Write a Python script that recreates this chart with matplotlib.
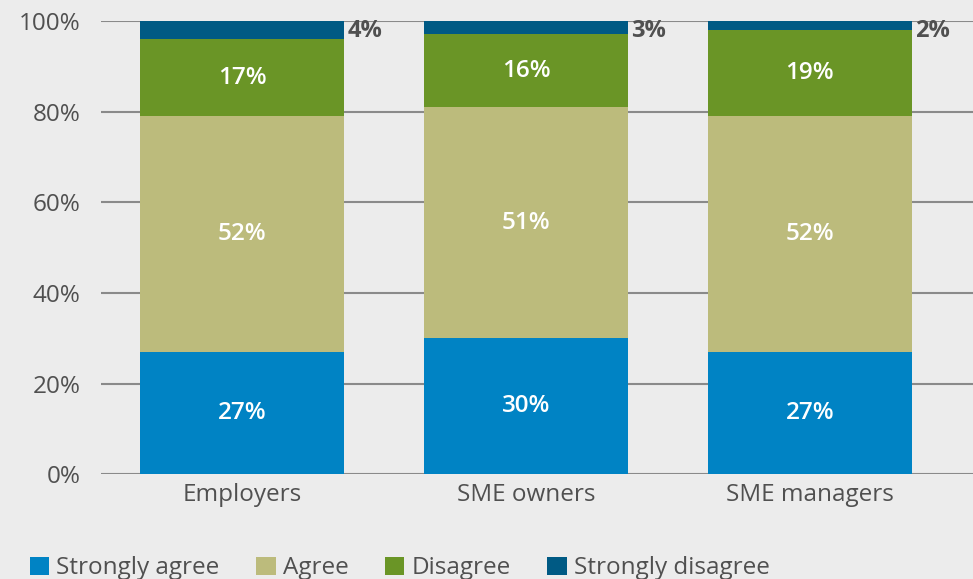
import matplotlib.pyplot as plt
import numpy as np

plt.rcParams['font.family'] = ['Open Sans', 'DejaVu Sans']

groups = ['Employers', 'SME owners', 'SME managers']
series = ['Strongly agree', 'Agree', 'Disagree', 'Strongly disagree']
strongly_agree = [27, 30, 27]
agree = [52, 51, 52]
disagree = [17, 16, 19]
strongly_disagree = [4, 3, 2]
colors = ['#0083c4', '#bcbb7c', '#6a9526', '#005a84']

bg = '#ececec'
txt = '#505050'

fig = plt.figure(figsize=(9.73, 5.79), dpi=100, facecolor=bg)
ax = fig.add_axes([0.104, 0.181, 0.896, 0.783], facecolor=bg)

x = np.arange(len(groups))
w = 0.72
bottom = np.zeros(len(groups))
data = [strongly_agree, agree, disagree, strongly_disagree]
for vals, name, c in zip(data, series, colors):
    vals = np.array(vals)
    ax.bar(x, vals, w, bottom=bottom, color=c, label=name, zorder=3)
    if name != 'Strongly disagree':
        for xi, b, v in zip(x, bottom, vals):
            ax.text(xi, b + v / 2, f'{v}%', ha='center', va='center',
                    color='white', fontsize=17.5, fontweight='semibold', zorder=4)
    else:
        for xi, v in zip(x, vals):
            ax.text(xi + w / 2 + 0.01, 100.5, f'{v}%', ha='left', va='top',
                    color=txt, fontsize=17, fontweight='bold', zorder=4)
    bottom += vals

ax.set_ylim(0, 100)
ax.set_xlim(-0.497, 2.575)
ax.set_yticks(range(0, 101, 20))
ax.set_yticklabels([f'{t}%' for t in range(0, 101, 20)])
ax.set_xticks(x)
ax.set_xticklabels(groups)
ax.tick_params(length=0, labelsize=17.5, labelcolor=txt)
ax.tick_params(axis='y', pad=15)
ax.tick_params(axis='x', pad=6)
ax.yaxis.grid(True, color='#8a8a8a', linewidth=1.5, zorder=1)
for s in ax.spines.values():
    s.set_visible(False)

leg = fig.legend(loc='lower left', bbox_to_anchor=(0.008, -0.04), ncol=4,
                 frameon=False, fontsize=17.5, handlelength=0.8, handleheight=0.8,
                 handletextpad=0.3, columnspacing=1.5, labelcolor=txt)

fig.savefig('out.png', dpi=100, facecolor=bg)
